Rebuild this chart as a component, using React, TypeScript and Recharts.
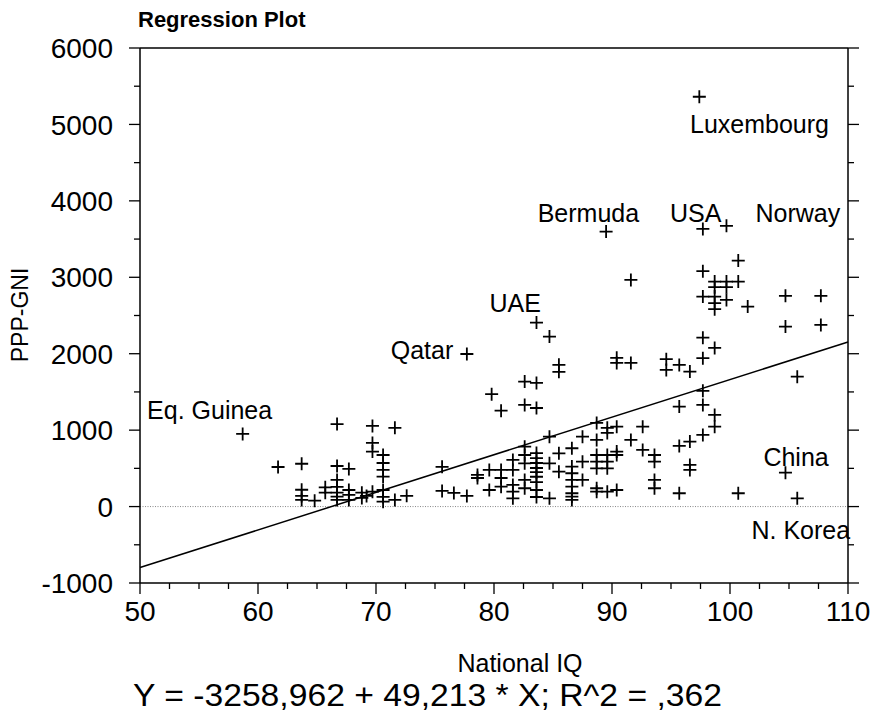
import React from 'react';
import { ScatterChart, Scatter, XAxis, YAxis, ReferenceLine, ReferenceDot } from 'recharts';

// national IQ (x) and PPP-GNI (y)
const iq = [
  58.7, 61.7, 63.7, 63.7, 63.7, 63.7, 64.8, 65.7, 65.7,
  66.7, 66.7, 66.7, 66.7, 66.7, 66.7, 66.7,
  67.7, 67.7, 67.7, 67.7, 68.8, 68.8, 69.2,
  69.7, 69.7, 69.7, 69.7,
  70.6, 70.6, 70.6, 70.6, 70.6, 70.6, 70.6,
  71.6, 71.6, 72.6,
  75.6, 75.6, 76.6, 77.7, 77.7, 78.6, 78.6,
  79.8, 79.6, 79.6,
  80.6, 80.6, 80.6, 80.6,
  81.6, 81.6, 81.6, 81.6, 81.6,
  82.6, 82.6, 82.6, 82.6, 82.6, 82.6, 82.6,
  83.6, 83.6, 83.6, 83.6, 83.6, 83.6, 83.6, 83.6, 83.6, 83.6, 83.6, 83.6,
  84.7, 84.7, 84.7, 84.7,
  85.5, 85.5, 85.5, 85.5,
  86.6, 86.6, 86.6, 86.6, 86.6, 86.6, 86.6, 86.6,
  87.5, 87.5, 87.5,
  88.7, 88.7, 88.7, 88.7, 88.7, 88.7, 88.7,
  89.5, 89.6, 89.6, 89.6, 89.6, 89.6, 89.6,
  90.4, 90.4, 90.4, 90.4, 90.4, 90.4,
  91.6, 91.6, 91.6,
  92.6, 92.6,
  93.6, 93.6, 93.6, 93.6,
  94.6, 94.6,
  95.7, 95.7, 95.7, 95.7,
  96.6, 96.6, 96.6, 96.6,
  97.4,
  97.7, 97.7, 97.7, 97.7, 97.7, 97.7, 97.7, 97.7,
  98.7, 98.7, 98.7, 98.7, 98.7, 98.7, 98.7, 98.7,
  99.7, 99.7, 99.7, 99.7,
  100.7, 100.7, 100.7,
  101.5,
  104.7, 104.7, 104.7,
  105.7, 105.7,
  107.7, 107.7,
];

const gni = [
  950, 518, 560, 220, 139, 87, 77, 252, 182,
  1080, 531, 348, 257, 182, 130, 87,
  492, 217, 152, 87, 182, 113, 139,
  1055, 833, 719, 195,
  675, 570, 479, 392, 217, 126, 64,
  1030, 87, 140,
  520, 205, 178, 1996, 139, 414, 374,
  1470, 479, 217,
  1255, 479, 374, 260,
  610, 479, 283, 195, 108,
  1635, 1330, 784, 675, 566, 348, 240,
  2407, 1618, 1290, 700, 635, 570, 505, 450, 390, 320, 217, 125,
  2224, 915, 566, 108,
  1855, 1763, 697, 457,
  763, 523, 436, 348, 260, 174, 130, 87,
  915, 588, 348,
  1094, 872, 675, 588, 501, 240, 195,
  3598, 1030, 963, 675, 588, 501, 195,
  1946, 1880, 1046, 719, 675, 217,
  2966, 1880, 872,
  1046, 741,
  675, 588, 348, 240,
  1928, 1788,
  1853, 1308, 793, 174,
  1766, 850, 545, 479,
  5362,
  3633, 3080, 2748, 2210, 1941, 1515, 1330, 937,
  2944, 2870, 2748, 2661, 2583, 2076, 1199, 1046,
  3673, 2944, 2870, 2704,
  3219, 2944, 174,
  2617,
  2757, 2355, 444,
  1700, 108,
  2757, 2377,
];

// regression line end points (x = 50 and x = 110)
const lineX = [50, 110];
const lineY = [-798, 2154];

const labelNames = ['Eq. Guinea', 'Qatar', 'UAE', 'Bermuda', 'USA', 'Norway', 'Luxembourg', 'China', 'N. Korea'];
const labelX = [55.9, 73.9, 81.8, 88.0, 97.1, 105.75, 102.5, 105.6, 106.0];
const labelY = [1264, 2049, 2670, 3836, 3836, 3836, 5001, 649, -306];

const xTicks = [50, 52.5, 55, 57.5, 60, 62.5, 65, 67.5, 70, 72.5, 75, 77.5, 80, 82.5, 85, 87.5, 90, 92.5, 95, 97.5, 100, 102.5, 105, 107.5, 110];
const xMajor = [50, 60, 70, 80, 90, 100, 110];
const yTicks = [-1000, -500, 0, 500, 1000, 1500, 2000, 2500, 3000, 3500, 4000, 4500, 5000, 5500, 6000];
const yMajor = [-1000, 0, 1000, 2000, 3000, 4000, 5000, 6000];

const FONT = '"Liberation Sans", Arial, sans-serif';
const TICK_FONT = 28;

const points = iq.map((x, i) => ({ x, y: gni[i] }));

const Cross = (props: any) => {
  const { cx, cy } = props;
  const s = 6.5;
  return (
    <path
      d={`M${cx - s},${cy}H${cx + s}M${cx},${cy - s}V${cy + s}`}
      stroke="#000"
      strokeWidth={1.8}
      fill="none"
    />
  );
};

const makeTick = (side: 'bottom' | 'top' | 'left' | 'right') => (props: any) => {
  const { x, y, payload } = props;
  const v = payload.value;
  const major = side === 'bottom' || side === 'top' ? xMajor.includes(v) : yMajor.includes(v);
  const len = major ? 11 : 6;
  if (side === 'bottom') {
    return (
      <g>
        <line x1={x} y1={y} x2={x} y2={y + len} stroke="#000" strokeWidth={1.3} />
        {major && (
          <text x={x} y={y + 38} textAnchor="middle" fontSize={TICK_FONT} fontFamily={FONT} fill="#000">
            {v}
          </text>
        )}
      </g>
    );
  }
  if (side === 'top') {
    return <line x1={x} y1={y} x2={x} y2={y - len} stroke="#000" strokeWidth={1.3} />;
  }
  if (side === 'left') {
    return (
      <g>
        <line x1={x - len} y1={y} x2={x} y2={y} stroke="#000" strokeWidth={1.3} />
        {major && (
          <text x={x - 27} y={y} dy="0.36em" textAnchor="end" fontSize={TICK_FONT} fontFamily={FONT} fill="#000">
            {v}
          </text>
        )}
      </g>
    );
  }
  return <line x1={x} y1={y} x2={x + len} y2={y} stroke="#000" strokeWidth={1.3} />;
};

const renderLabel = (name: string) => (p: any) => (
  <text x={p.cx} y={p.cy} dy="0.36em" textAnchor="middle" fontSize={25} fontFamily={FONT} fill="#000">
    {name}
  </text>
);

const axisLine = { stroke: '#000', strokeWidth: 1.5 };

export default function App() {
  return (
    <div style={{ position: 'absolute', left: 0, top: 0, width: 879, height: 713, background: '#fff' }}>
      <ScatterChart width={879} height={713} margin={{ top: 40, right: 21, bottom: 0, left: 0 }}>
        <XAxis
          xAxisId="b"
          type="number"
          dataKey="x"
          domain={[50, 110]}
          ticks={xTicks}
          interval={0}
          allowDataOverflow
          height={130}
          tickSize={0}
          tickMargin={0}
          tickLine={false}
          axisLine={axisLine}
          tick={makeTick('bottom')}
        />
        <XAxis
          xAxisId="t"
          orientation="top"
          type="number"
          domain={[50, 110]}
          ticks={xTicks}
          interval={0}
          allowDataOverflow
          height={8}
          tickSize={0}
          tickMargin={0}
          tickLine={false}
          axisLine={axisLine}
          tick={makeTick('top')}
        />
        <YAxis
          yAxisId="l"
          type="number"
          dataKey="y"
          domain={[-1000, 6000]}
          ticks={yTicks}
          interval={0}
          allowDataOverflow
          width={140}
          tickSize={0}
          tickMargin={0}
          tickLine={false}
          axisLine={axisLine}
          tick={makeTick('left')}
        />
        <YAxis
          yAxisId="r"
          orientation="right"
          type="number"
          domain={[-1000, 6000]}
          ticks={yTicks}
          interval={0}
          allowDataOverflow
          width={10}
          tickSize={0}
          tickMargin={0}
          tickLine={false}
          axisLine={axisLine}
          tick={makeTick('right')}
        />
        <ReferenceLine xAxisId="b" yAxisId="l" y={0} stroke="#888" strokeWidth={1} strokeDasharray="1 1.5" />
        <ReferenceLine
          xAxisId="b"
          yAxisId="l"
          segment={[
            { x: lineX[0], y: lineY[0] },
            { x: lineX[1], y: lineY[1] },
          ]}
          stroke="#000"
          strokeWidth={1.5}
        />
        <Scatter xAxisId="b" yAxisId="l" data={points} shape={Cross} isAnimationActive={false} />
        {labelNames.map((name, i) => (
          <ReferenceDot
            key={name}
            xAxisId="b"
            yAxisId="l"
            x={labelX[i]}
            y={labelY[i]}
            r={0}
            ifOverflow="visible"
            shape={renderLabel(name)}
          />
        ))}
      </ScatterChart>
      <svg width={879} height={713} style={{ position: 'absolute', left: 0, top: 0, pointerEvents: 'none' }}>
        <text x={138} y={27} fontSize={22} fontWeight="bold" fontFamily={FONT} fill="#000">
          Regression Plot
        </text>
        <text
          transform="translate(28,315) rotate(-90)"
          textAnchor="middle"
          fontSize={23}
          fontFamily={FONT}
          fill="#000"
        >
          PPP-GNI
        </text>
        <text x={520} y={672} textAnchor="middle" fontSize={25} fontFamily={FONT} fill="#000">
          National IQ
        </text>
        <text
          x={133}
          y={706}
          textLength={589}
          lengthAdjust="spacingAndGlyphs"
          fontSize={31}
          fontFamily={FONT}
          fill="#000"
        >
          Y = -3258,962 + 49,213 * X; R^2 = ,362
        </text>
      </svg>
    </div>
  );
}
